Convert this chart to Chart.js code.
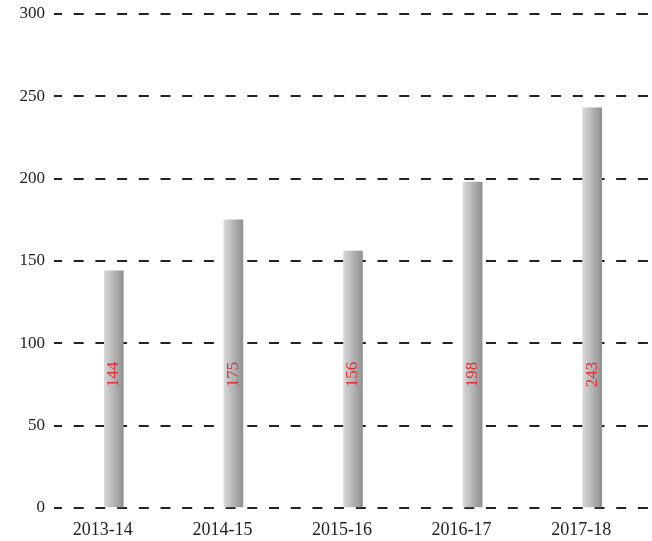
<!DOCTYPE html>
<html>
<head>
<meta charset="utf-8">
<script src="https://cdn.jsdelivr.net/npm/chart.js@4/dist/chart.umd.min.js"></script>
<style>
    html, body { margin: 0; padding: 0; background: #fff; }
    #wrap { width: 652px; height: 541px; position: relative; }
</style>
</head>
<body>
<div id="wrap"><canvas id="chart"></canvas></div>
<script>
const years = ['2013-14', '2014-15', '2015-16', '2016-17', '2017-18'];
const values = [144, 175, 156, 198, 243];
const labelLevel = 81; // value on the y scale where the red labels sit

const fontFamily = '"Liberation Serif", "Times New Roman", serif';

function barGradient(context) {
    const chart = context.chart;
    const xScale = chart.scales.x;
    if (!xScale || context.dataIndex === undefined) return '#b5b5b5';
    const cx = xScale.getPixelForValue(context.dataIndex);
    if (!Number.isFinite(cx)) return '#b5b5b5';
    const g = chart.ctx.createLinearGradient(cx - 10, 0, cx + 10, 0);
    g.addColorStop(0, '#dadada');
    g.addColorStop(1, '#8e8e8e');
    return g;
}

const valueLabels = {
    id: 'valueLabels',
    afterDatasetsDraw(chart) {
        const ctx = chart.ctx;
        const yPix = chart.scales.y.getPixelForValue(labelLevel);
        chart.getDatasetMeta(0).data.forEach((bar, i) => {
            ctx.save();
            ctx.translate(bar.x, yPix);
            ctx.rotate(-Math.PI / 2);
            ctx.fillStyle = '#d8333b';
            ctx.font = '17px ' + fontFamily;
            ctx.textAlign = 'center';
            ctx.textBaseline = 'middle';
            ctx.fillText(String(values[i]), 0, 0);
            ctx.restore();
        });
    }
};

new Chart(document.getElementById('chart'), {
    type: 'bar',
    data: {
        labels: years,
        datasets: [{
            data: values,
            backgroundColor: barGradient,
            barThickness: 19,
            borderWidth: 0
        }]
    },
    options: {
        responsive: true,
        maintainAspectRatio: false,
        animation: false,
        layout: { padding: { top: 14, right: 0, bottom: 0, left: 0 } },
        plugins: {
            legend: { display: false },
            tooltip: { enabled: false }
        },
        scales: {
            x: {
                grid: { display: false, drawTicks: false },
                border: { display: false },
                ticks: {
                    color: '#222',
                    font: { family: fontFamily, size: 18 },
                    padding: 11,
                    labelOffset: -11,
                    maxRotation: 0
                },
                afterFit(scale) {
                    scale.height = 33;
                    scale.paddingLeft = 0;
                    scale.paddingRight = 0;
                }
            },
            y: {
                min: 0,
                max: 300,
                z: 1,
                border: { display: false, dash: [10, 11.7], dashOffset: 2 },
                grid: {
                    color: '#222',
                    lineWidth: 2,
                    drawTicks: false
                },
                ticks: {
                    stepSize: 50,
                    color: '#222',
                    font: { family: fontFamily, size: 17 },
                    padding: 9
                },
                afterFit(scale) {
                    scale.width = 54;
                    scale.paddingTop = 0;
                    scale.paddingBottom = 0;
                }
            }
        }
    },
    plugins: [valueLabels]
});
</script>
</body>
</html>
